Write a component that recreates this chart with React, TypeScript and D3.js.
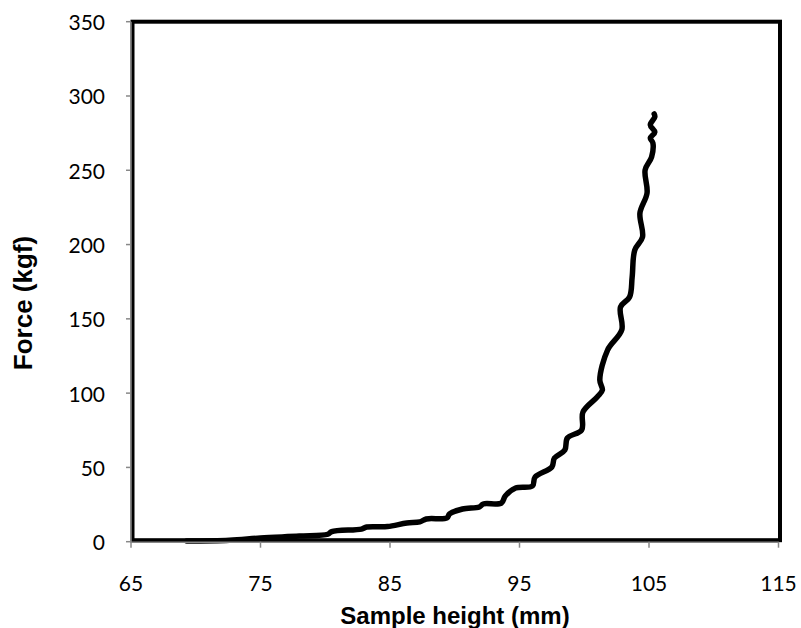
import React from "react";
import * as d3 from "d3";

const heights = [69.3, 72.6, 75.0, 78.0, 80.2, 80.5, 82.8, 83.2, 84.8, 86.3, 87.3, 87.8, 89.4, 89.6, 90.6, 91.9, 92.2, 93.6, 93.9, 94.7, 96.0, 96.2, 97.5, 97.7, 98.5, 98.7, 99.8, 99.9, 101.0, 101.4, 101.2, 101.8, 102.9, 102.8, 103.5, 103.7, 103.9, 104.5, 104.3, 104.85, 104.7, 105.2, 105.3, 105.1, 105.45, 105.1, 105.45, 105.4];
const forces = [0.5, 1.0, 2.5, 3.8, 5.0, 6.8, 8.5, 9.9, 10.2, 12.6, 13.3, 15.3, 16.0, 18.7, 22.0, 23.4, 25.4, 26.0, 30.8, 36.1, 37.5, 43.5, 50.3, 56.3, 61.7, 69.8, 75.2, 87.3, 97.4, 102.1, 108.8, 129.0, 142.6, 158.0, 164.7, 178.2, 196.3, 205.1, 221.2, 234.7, 250.2, 258.9, 268.4, 271.7, 275.7, 280.5, 285.9, 287.9];
const xTicks = [65, 75, 85, 95, 105, 115];
const yTicks = [0, 50, 100, 150, 200, 250, 300, 350];

export default function App() {
  const left = 131, right = 778.5, top = 21.7, bottom = 541.7;
  const x = d3.scaleLinear().domain([65, 115]).range([left, right]);
  const y = d3.scaleLinear().domain([0, 350]).range([bottom, top]);
  const pts: [number, number][] = heights.map((h, i) => [h, forces[i]]);
  const line = d3
    .line<[number, number]>()
    .x((d) => x(d[0]))
    .y((d) => y(d[1]))
    .curve(d3.curveCatmullRom.alpha(0.5));
  const tickFont = "Lato, 'Open Sans', sans-serif";
  return (
    <svg width={801} height={628} style={{ position: "absolute", left: 0, top: 0 }}>
      <rect x={0} y={0} width={801} height={628} fill="#fff" />
      <rect x={left + 1.5} y={top} width={right - left} height={bottom - top - 1.5} fill="none" stroke="#000" strokeWidth={4} />
      <path d={line(pts) || ""} fill="none" stroke="#000" strokeWidth={5.5} strokeLinejoin="round" strokeLinecap="round" />
      <line x1={left} x2={left} y1={top} y2={bottom + 1} stroke="#888" strokeWidth={1.5} />
      <line x1={left} x2={right} y1={bottom + 0.5} y2={bottom + 0.5} stroke="#888" strokeWidth={1.5} />
      {yTicks.map((t) => (
        <g key={"y" + t}>
          <line x1={left - 5} x2={left} y1={y(t)} y2={y(t)} stroke="#888" strokeWidth={1.5} />
          <text x={105} y={y(t)} textAnchor="end" dominantBaseline="central" fontFamily={tickFont} fontSize={21} fill="#000">
            {t}
          </text>
        </g>
      ))}
      {xTicks.map((t) => (
        <g key={"x" + t}>
          <line x1={x(t)} x2={x(t)} y1={bottom} y2={bottom + 6} stroke="#888" strokeWidth={1.5} />
          <text x={x(t)} y={591} textAnchor="middle" fontFamily={tickFont} fontSize={21} fill="#000">
            {t}
          </text>
        </g>
      ))}
      <text x={455} y={624} textAnchor="middle" fontFamily="'Liberation Sans', Arial, sans-serif" fontWeight="bold" fontSize={24} fill="#000">
        Sample height (mm)
      </text>
      <text transform="translate(23,303) rotate(-90)" textAnchor="middle" dominantBaseline="central" fontFamily="'Liberation Sans', Arial, sans-serif" fontWeight="bold" fontSize={26} fill="#000">
        Force (kgf)
      </text>
    </svg>
  );
}
